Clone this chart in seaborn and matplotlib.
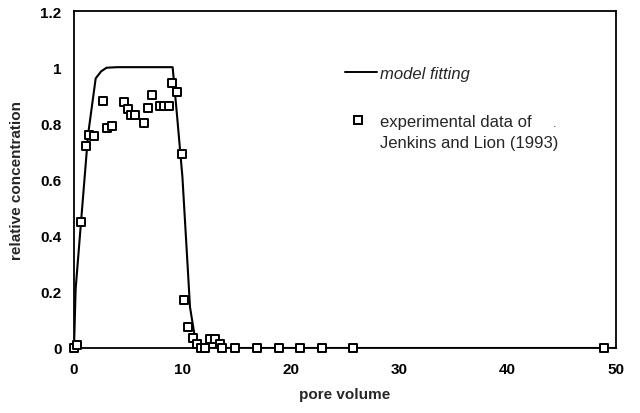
import matplotlib
matplotlib.use("Agg")
import matplotlib.pyplot as plt
import seaborn as sns
import pandas as pd
from matplotlib.lines import Line2D

# Model breakthrough curve (pore volume vs relative concentration)
model_pv = [0, 0.15, 0.65, 1.3, 2.0, 2.5, 3.0, 4.0, 9.1, 9.5, 10.0, 10.5, 10.7, 11.1, 11.8, 50]
model_c = [0, 0.21, 0.45, 0.76, 0.96, 0.985, 0.998, 1.0, 1.0, 0.83, 0.61, 0.28, 0.146, 0.05, 0, 0]

# Experimental data of Jenkins and Lion (1993)
exp_pv = [0, 0.3, 0.65, 1.08, 1.41, 1.87, 2.7, 3.02, 3.48, 4.61, 4.98, 5.23, 5.66,
          6.49, 6.83, 7.2, 7.9, 8.3, 8.74, 9.07, 9.47, 9.96, 10.18, 10.49, 11.0,
          11.37, 11.69, 12.06, 12.52, 13.03, 13.5, 13.63, 14.85, 16.85, 18.9,
          20.85, 22.85, 25.77, 48.9]
exp_c = [0, 0.01, 0.45, 0.72, 0.76, 0.755, 0.88, 0.785, 0.79, 0.875, 0.85, 0.83, 0.83,
         0.80, 0.853, 0.90, 0.86, 0.86, 0.86, 0.945, 0.913, 0.69, 0.17, 0.074, 0.035,
         0.014, 0, 0, 0.032, 0.032, 0.014, 0, 0, 0, 0,
         0, 0, 0, 0]

x_ticks = [0, 10, 20, 30, 40, 50]
y_ticks = [0, 0.2, 0.4, 0.6, 0.8, 1, 1.2]
y_tick_labels = ["0", "0.2", "0.4", "0.6", "0.8", "1", "1.2"]

sns.set_style("white")
plt.rcParams["font.family"] = ["Liberation Sans", "DejaVu Sans"]

model_df = pd.DataFrame({"pv": model_pv, "c": model_c})
exp_df = pd.DataFrame({"pv": exp_pv, "c": exp_c})

fig = plt.figure(figsize=(6.4, 4.14), dpi=100)
ax = fig.add_axes([74 / 640, 1 - 349 / 414, (616 - 74) / 640, (349 - 12) / 414])

sns.lineplot(data=model_df, x="pv", y="c", ax=ax, color="black", linewidth=1.5,
             sort=False, estimator=None, zorder=2)
sns.scatterplot(data=exp_df, x="pv", y="c", ax=ax, marker="s", s=38,
                facecolor="white", edgecolor="black", linewidth=1.4,
                zorder=3, clip_on=False)

ax.set_xlim(0, 50)
ax.set_ylim(0, 1.2)
ax.set_xticks(x_ticks)
ax.set_yticks(y_ticks)
ax.set_yticklabels(y_tick_labels)
ax.tick_params(direction="inout", length=6, width=1.1, color="black",
               labelsize=11, labelcolor="black")
ax.tick_params(axis="x", pad=7)
ax.tick_params(axis="y", pad=6)
for lab in ax.get_xticklabels() + ax.get_yticklabels():
    lab.set_fontweight("bold")

for sp in ax.spines.values():
    sp.set_visible(True)
    sp.set_color("black")
    sp.set_linewidth(1.3)

ax.set_xlabel("pore volume", fontsize=11, fontweight="bold", labelpad=8)
ax.set_ylabel("relative concentration", fontsize=11, fontweight="bold", labelpad=12)

# Legend: model line
h_line = Line2D([], [], color="black", linewidth=1.4)
leg1 = ax.legend([h_line], ["model fitting"], loc="center left",
                 bbox_to_anchor=(345 / 640, 1 - 74 / 414), bbox_transform=fig.transFigure,
                 frameon=False, handlelength=1.92, handletextpad=0.18, borderpad=0,
                 borderaxespad=0, prop={"size": 12, "style": "italic"})
ax.add_artist(leg1)

# Legend: experimental data
h_sq = Line2D([], [], marker="s", linestyle="none", markersize=5.5,
              markerfacecolor="white", markeredgecolor="black", markeredgewidth=1.4)
h_blank = Line2D([], [], linestyle="none")
leg2 = ax.legend([h_sq, h_blank], ["experimental data of", "Jenkins and Lion (1993)"],
                 loc="upper left",
                 bbox_to_anchor=(350 / 640, 1 - 115 / 414), bbox_transform=fig.transFigure,
                 frameon=False, handlelength=1.0, handletextpad=0.8, borderpad=0,
                 borderaxespad=0, labelspacing=0.35, prop={"size": 12})
ax.text(555 / 640, 1 - 127 / 414, ".", transform=fig.transFigure, fontsize=9,
        ha="center", va="baseline")

fig.savefig("out.png", dpi=100)
